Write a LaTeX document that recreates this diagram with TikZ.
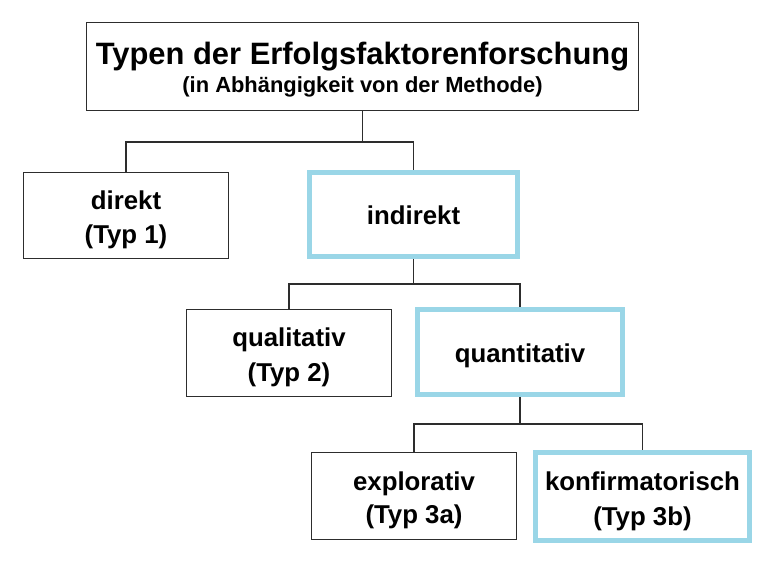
\documentclass[tikz,border=0pt]{standalone}
\usepackage{fontspec}
\setmainfont{Liberation Sans}
\definecolor{hlblue}{RGB}{154,214,231}
\definecolor{edgegray}{RGB}{45,45,45}
\newcommand\twolines[3]{\vtop{\baselineskip=#1\relax\halign{\hfil##\hfil\cr #2\cr #3\cr}}}
\begin{document}
\begin{tikzpicture}[x=1pt,y=-1pt,
  boxtext/.style={font=\fontsize{25.8}{34}\selectfont\bfseries, inner sep=0pt, align=center},
  plainbox/.style={boxtext, draw=edgegray, line width=1.3pt, fill=white,
    minimum width=205pt, minimum height=86.5pt, text height=19pt, text depth=31pt},
  bluebox/.style={boxtext, draw=hlblue, line width=5pt, fill=white,
    text height=21pt, text depth=0pt},
  topbox/.style={draw=edgegray, line width=1.3pt, fill=white, inner sep=0pt,
    font=\bfseries, minimum width=552pt, minimum height=88pt,
    text height=22pt, text depth=25pt},
  conn/.style={draw=edgegray, line width=1.3pt}]
\useasboundingbox (0,0) rectangle (769,561);
\fill[white] (0,0) rectangle (769,561);

\node[topbox] (top) at (362.5,66.5) {\vtop{\baselineskip=28pt\halign{\hfil#\hfil\cr
  \fontsize{30.9}{36}\selectfont Typen der Erfolgsfaktorenforschung\cr
  \fontsize{21.9}{26}\selectfont (in Abhängigkeit von der Methode)\cr}}};

\node[plainbox] (dir) at (126,215.5) {\twolines{34pt}{direkt}{(Typ 1)}};
\node[bluebox, minimum width=208pt, minimum height=84pt] (ind) at (413.5,214.5) {indirekt};
\node[plainbox] (qual) at (289,353) {\twolines{35pt}{qualitativ}{(Typ 2)}};
\node[bluebox, minimum width=205pt, minimum height=85pt] (quant) at (520,352) {quantitativ};
\node[plainbox] (expl) at (414,496) {\twolines{33pt}{explorativ}{(Typ 3a)}};
\node[bluebox, minimum width=214pt, minimum height=88pt, text height=19pt, text depth=31pt] (konf) at (642.5,496.5) {\twolines{35pt}{konfirmatorisch}{(Typ 3b)}};

\path (top.south) ++(0,31) coordinate (j1);
\path (ind.south) ++(0,25) coordinate (j2);
\path (quant.south) ++(0,27) coordinate (j3);

\draw[conn] (top.south) -- (j1) -| (dir.north);
\draw[conn] (j1) -| (ind.north);
\draw[conn] (ind.south) -- (j2) -| (qual.north);
\draw[conn] (j2) -| (quant.north);
\draw[conn] (quant.south) -- (j3) -| (expl.north);
\draw[conn] (j3) -| (konf.north);
\end{tikzpicture}
\end{document}
